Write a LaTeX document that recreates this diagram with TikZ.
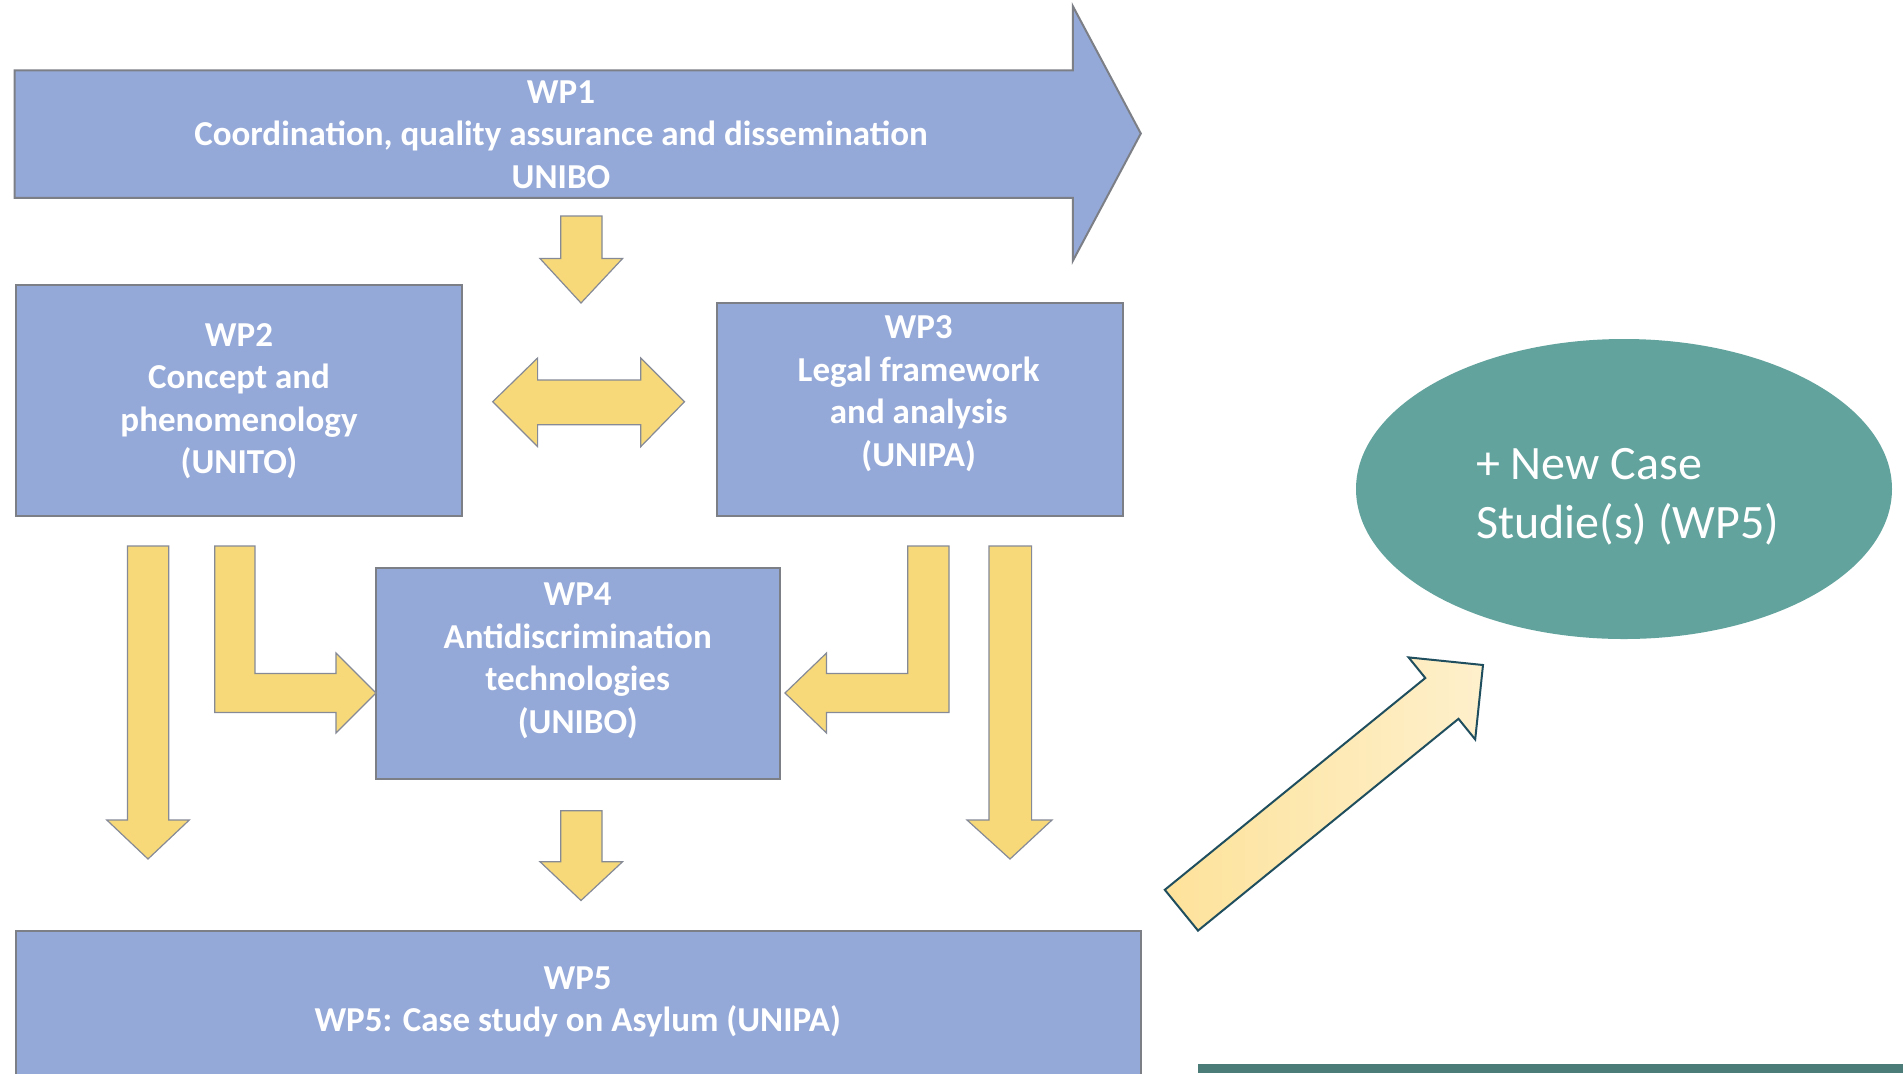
\documentclass[tikz,border=0pt]{standalone}
\usepackage{fontspec}
\setmainfont{Carlito}
\usepackage{xcolor}
\usetikzlibrary{positioning}
\usetikzlibrary{calc}
\usetikzlibrary{shapes.geometric}
\definecolor{boxblue}{HTML}{95A9D8}
\definecolor{boxline}{HTML}{7C7F86}
\definecolor{arrowyellow}{HTML}{F7D97A}
\definecolor{arrowline}{HTML}{858A96}
\definecolor{caseteal}{HTML}{62A39E}
\definecolor{darkteal}{HTML}{1F4E5E}
\definecolor{barteal}{HTML}{4B7C77}
\definecolor{lightyellow}{HTML}{FEF0CC}
\definecolor{midyellow}{HTML}{FDE29A}

\begin{document}
\begin{tikzpicture}[x=0.5pt, y=-0.5pt,
	wpbox/.style={draw=boxline, line width=1pt, fill=boxblue, inner sep=0pt},
	wptext/.style={text=white, font=\bfseries\fontsize{17.5}{21.25}\selectfont, align=center},
	fatarrow/.style={draw=arrowline, line width=0.6pt, fill=arrowyellow}]
	\clip (0,0) rectangle (1903,1073);
	\fill[white] (0,0) rectangle (1903,1073);
	%big WP1 arrow
	\draw[wpbox] (14.6,70.4) -- (1072.8,70.4) -- (1072.8,6.1) -- (1140.8,133.5) -- (1072.8,260.9) -- (1072.8,197.8) -- (14.6,197.8) -- cycle;
	\node[wptext] (wp1) at (561,134.5) {WP1\\Coordination, quality assurance and dissemination\\UNIBO};
	%boxes
	\node[wpbox, minimum width=223.3pt, minimum height=115.4pt] (wp2) at (239,400.4) {};
	\node[wptext] (wp2text) at (239,401) {WP2\\Concept and\\phenomenology\\(UNITO)};
	\node[wpbox, minimum width=202.8pt, minimum height=106.2pt] (wp3) at (919.8,409.6) {};
	\node[wptext] (wp3text) at (918.7,393.8) {WP3\\Legal framework\\and analysis\\(UNIPA)};
	\node[wpbox, minimum width=202pt, minimum height=105.5pt] (wp4) at (578,673.5) {};
	\node[wptext] (wp4text) at (577.7,660.8) {WP4\\Antidiscrimination\\technologies\\(UNIBO)};
	\draw[wpbox] (15.8,1080) -- (15.8,931) -- (1141,931) -- (1141,1080);
	\node[wptext] (wp5) at (577.7,1001.8) {WP5\\WP5: Case study on Asylum (UNIPA)};
	%yellow arrows
	\draw[fatarrow] (560.7,216) -- (602,216) -- (602,258.5) -- (622.6,258.5) -- (581,303) -- (540,258.5) -- (560.7,258.5) -- cycle;
	\draw[fatarrow] (492.7,401.7) -- (537.6,358) -- (537.6,380) -- (640.8,380) -- (640.8,358) -- (684.5,401.7) -- (640.8,446.6) -- (640.8,424.8) -- (537.6,424.8) -- (537.6,446.6) -- cycle;
	\draw[fatarrow] (127.4,546) -- (168.7,546) -- (168.7,820) -- (189.3,820) -- (148,859) -- (106.8,820) -- (127.4,820) -- cycle;
	\draw[fatarrow] (989,546) -- (1031.6,546) -- (1031.6,820) -- (1052,820) -- (1010,859) -- (967,820) -- (989,820) -- cycle;
	\draw[fatarrow] (214.8,546) -- (254.9,546) -- (254.9,673.5) -- (336,673.5) -- (336,653) -- (376,693) -- (336,733) -- (336,712.4) -- (214.8,712.4) -- cycle;
	\draw[fatarrow] (949,546) -- (907.8,546) -- (907.8,673.5) -- (826.5,673.5) -- (826.5,653) -- (785,693) -- (826.5,733) -- (826.5,712.4) -- (949,712.4) -- cycle;
	\draw[fatarrow] (560.7,810.7) -- (602,810.7) -- (602,861.7) -- (622.6,861.7) -- (581,900.5) -- (540,861.7) -- (560.7,861.7) -- cycle;
	%new case studies
	\node[ellipse, fill=caseteal, minimum width=268pt, minimum height=150pt] (newcase) at (1624,489) {};
	\node[anchor=west, align=left, text=white, font=\fontsize{24}{29.5}\selectfont] (newcasetext) at (1469,497) {+ New Case\\Studie(s) (WP5)};
	%diagonal arrow
	\shade[draw=darkteal, line width=1pt, left color=midyellow, right color=lightyellow] (1164.8,889.8) -- (1425.3,678) -- (1408.6,657.4) -- (1483,665) -- (1475.2,739.4) -- (1458.5,718.8) -- (1198,930.6) -- cycle;
	%bottom bar
	\fill[barteal] (1197.8,1064) rectangle (1903,1073);
\end{tikzpicture}
\end{document}
